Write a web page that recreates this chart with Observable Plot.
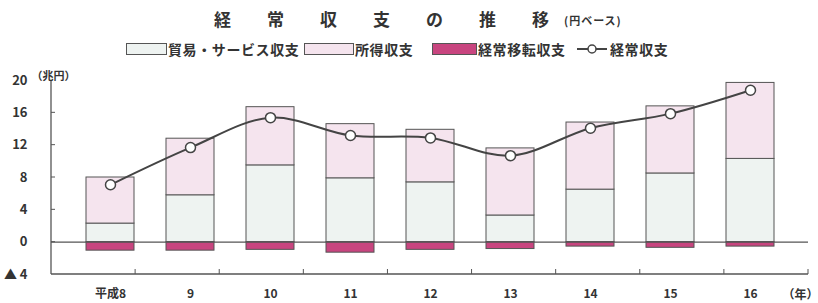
<!DOCTYPE html>
<html><head><meta charset="utf-8">
<script src="https://cdn.jsdelivr.net/npm/d3@7"></script>
<script src="https://cdn.jsdelivr.net/npm/@observablehq/plot@0.6"></script>
<style>
body{margin:0;background:#fff;font-family:"Noto Sans CJK JP",sans-serif;color:#333;}
#wrap{position:relative;width:818px;height:303px;}
#title{position:absolute;left:214px;top:6px;font-size:17px;font-weight:bold;letter-spacing:36px;white-space:nowrap;}
#title .last{letter-spacing:0;}
#subtitle{position:absolute;left:564px;top:12px;font-size:11px;letter-spacing:1px;font-weight:bold;white-space:nowrap;}
#legend{position:absolute;top:39px;left:0;width:818px;height:20px;font-size:14px;font-weight:bold;}
.li{position:absolute;top:0;white-space:nowrap;display:flex;align-items:center;height:20px;letter-spacing:0.6px;}
.sw{display:inline-block;box-sizing:border-box;height:12px;border:1px solid #555;margin-right:1px;}
#chart{position:absolute;top:60px;left:0;}
</style></head>
<body><div id="wrap">
<div id="title">経常収支の推<span class="last">移</span></div>
<div id="subtitle">(円ベース)</div>
<div id="legend"></div>
<div id="chart"></div>
</div>
<script>
const years = ["平成8","9","10","11","12","13","14","15","16"];
const tradeServices = [2.3, 5.8, 9.5, 7.9, 7.4, 3.3, 6.5, 8.5, 10.3];
const income = [5.7, 7.0, 7.2, 6.7, 6.5, 8.3, 8.3, 8.3, 9.4];
const transfers = [-1.05, -1.05, -0.95, -1.3, -0.95, -0.85, -0.55, -0.7, -0.55];
const currentAccount = [7.1, 11.7, 15.4, 13.2, 12.9, 10.7, 14.1, 15.9, 18.8];
const seriesNames = ["貿易・サービス収支","所得収支","経常移転収支","経常収支"];
const seriesColors = ["#eef3f1","#f5e4ee","#c8457f","#444"];
const yTicks = [20,16,12,8,4,0,-4];

const rows = [];
years.forEach((y,i)=>{
  rows.push({year:y, series:seriesNames[0], value:tradeServices[i]});
  rows.push({year:y, series:seriesNames[1], value:income[i]});
  rows.push({year:y, series:seriesNames[2], value:transfers[i]});
});
const ca = years.map((y,i)=>({year:y, value:currentAccount[i]}));

// legend
const legend = document.getElementById("legend");
const lefts = [126, 304, 432, 576];
const swW = [41, 50, 45];
seriesNames.forEach((s,i)=>{
  const d = document.createElement("div");
  d.className="li"; d.style.left = lefts[i]+"px";
  if(i<3){
    d.innerHTML = `<span class="sw" style="width:${swW[i]}px;background:${seriesColors[i]}"></span>${s}`;
  } else {
    d.innerHTML = `<svg width="32" height="14" style="margin-right:2px"><line x1="1" x2="31" y1="7" y2="7" stroke="#444" stroke-width="2"/><circle cx="16" cy="7" r="4" fill="#fff" stroke="#444" stroke-width="1.5"/></svg>${s}`;
  }
  legend.appendChild(d);
});

const frameMark = (index, scales, values, dim) => {
  const g = d3.create("svg:g").attr("stroke","#555").attr("fill","none");
  const l = dim.marginLeft, r = dim.width - dim.marginRight;
  const t = scales.y(20), b = scales.y(-4);
  g.append("line").attr("x1",l).attr("x2",l).attr("y1",t).attr("y2",b).attr("stroke-width",1.3);
  g.append("line").attr("x1",l).attr("x2",r).attr("y1",b).attr("y2",b).attr("stroke-width",1.3);
  for(const v of yTicks.slice(1,-1)){
    g.append("line").attr("x1",l).attr("x2",l+4).attr("y1",scales.y(v)).attr("y2",scales.y(v));
  }
  const step = (r-l)/years.length;
  for(let k=1;k<=years.length;k++){
    const xx = l + step*k;
    g.append("line").attr("x1",xx).attr("x2",xx).attr("y1",b).attr("y2",b-5);
  }
  return g.node();
};

const chart = Plot.plot({
  width: 818, height: 243,
  marginLeft: 51, marginRight: 10, marginTop: 20, marginBottom: 29,
  style: {fontFamily: '"Noto Sans CJK JP", sans-serif', color:"#333", fontSize:"12px", fontWeight:"bold", background:"transparent"},
  x: {domain: years, padding: 0.4, label: null},
  y: {domain: [-4, 20], label: null},
  color: {domain: seriesNames, range: seriesColors},
  marks: [
    Plot.axisY({ticks: yTicks, tickSize: 0, tickPadding: 24, tickFormat: d => d < 0 ? "▲ " + (-d) : d, label: null, fontSize: 13}),
    Plot.axisX({tickSize: 0, tickPadding: 15, label: null, fontSize: 12}),
    Plot.barY(rows, Plot.stackY({x:"year", y:"value", fill:"series", stroke:"#555", strokeWidth:1, order: seriesNames})),
    Plot.ruleY([0], {stroke:"#555", strokeWidth:1.3}),
    frameMark,
    Plot.line(ca, {x:"year", y:"value", stroke:"#444", strokeWidth:2, curve:"catmull-rom"}),
    Plot.dot(ca, {x:"year", y:"value", r:5, fill:"#fff", stroke:"#444", strokeWidth:1.5}),
    Plot.text(["（兆円）"], {frameAnchor:"top-left", dx:-20, dy:-8, text:d=>d, fontSize:11, textAnchor:"start"}),
    Plot.text(["（年）"], {frameAnchor:"bottom-right", dx:10, dy:24, text:d=>d, fontSize:12, textAnchor:"end"})
  ]
});
document.getElementById("chart").appendChild(chart);
</script>
</body></html>
